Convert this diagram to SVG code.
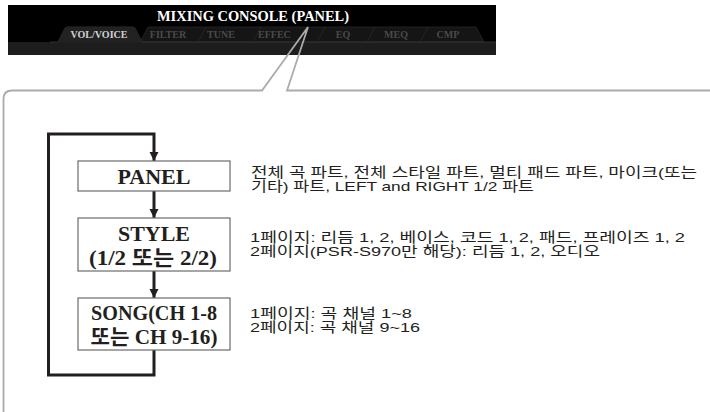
<svg xmlns="http://www.w3.org/2000/svg" width="710" height="412" viewBox="0 0 710 412">
<defs>
<style>
.tab{fill:#151515;stroke:#262626;stroke-width:0.8}
.tabt{font-family:"Liberation Serif",serif;font-weight:bold;font-size:10px;fill:#4a4a4a;text-anchor:middle}
.box{fill:#fff;stroke:#6b6b6b;stroke-width:1.2}
.bt{font-family:"Liberation Serif","Noto Sans CJK KR",serif;font-weight:bold;font-size:21px;fill:#231f20;text-anchor:middle}
.desc{font-family:"Liberation Sans","Noto Sans CJK KR",sans-serif;font-size:13.5px;fill:#231f20}
.conn{fill:none;stroke:#231f20;stroke-width:3}
.callout{fill:none;stroke:#ababab;stroke-width:1.8}
</style>
<marker id="ah" markerUnits="userSpaceOnUse" markerWidth="10" markerHeight="10" refX="9" refY="4.5" orient="auto">
<path d="M0,0 L9,4.5 L0,9 z" fill="#231f20"/>
</marker>
</defs>
<rect width="710" height="412" fill="#fff"/>
<g id="screen">
<rect x="8" y="5" width="488" height="50" fill="#000"/>
<rect x="8" y="42" width="488" height="13" fill="#1d1d1d"/>
<polygon class="tab" points="420,42 428,27 476,27 484,42"/>
<polygon class="tab" points="367,42 375,27 428,27 420,42"/>
<polygon class="tab" points="317,42 325,27 375,27 367,42"/>
<polygon class="tab" points="253,42 261,27 325,27 317,42"/>
<polygon class="tab" points="198,42 206,27 261,27 253,42"/>
<polygon class="tab" points="140,42 148,27 206,27 198,42"/>
<path d="M50,42 L58,42 L65,28 Q66,27 68,27 L132,27 Q134,27 135,28 L142,42 L496,42" fill="none" stroke="#3a3a3a" stroke-width="0.8"/>
<path d="M58,42.5 L65,28 Q66,27 68,27 L132,27 Q134,27 135,28 L142,42.5 z" fill="#222"/>
<text x="253" y="21" font-family="Liberation Serif,serif" font-weight="bold" font-size="15" fill="#fff" text-anchor="middle" textLength="192" lengthAdjust="spacingAndGlyphs">MIXING CONSOLE (PANEL)</text>
<text x="99" y="38" class="tabt" style="fill:#d2d2d2" textLength="57" lengthAdjust="spacingAndGlyphs">VOL/VOICE</text>
<text x="168" y="38" class="tabt">FILTER</text>
<text x="221" y="38" class="tabt">TUNE</text>
<text x="258" y="38" class="tabt" style="text-anchor:start">EFFEC</text>
<text x="343" y="38" class="tabt">EQ</text>
<text x="396" y="38" class="tabt">MEQ</text>
<text x="448" y="38" class="tabt">CMP</text>
</g>
<g id="callout">
<path class="callout" d="M3.5,412 V99 Q3.5,90.5 12,90.5 H262 L308,27 L287,90.5 H710"/>
</g>
<g id="connectors">
<path class="conn" d="M154,350 V375 H48.5 V134 H154 V161" marker-end="url(#ah)"/>
<path class="conn" d="M154,191 V218" marker-end="url(#ah)"/>
<path class="conn" d="M154,271 V298" marker-end="url(#ah)"/>
</g>
<g id="panel">
<rect class="box" x="78" y="161" width="152" height="30"/>
<text class="bt" x="154" y="184" textLength="73" lengthAdjust="spacingAndGlyphs">PANEL</text>
</g>
<g id="style">
<rect class="box" x="78" y="218" width="152" height="53"/>
<text class="bt" x="154" y="241" textLength="72" lengthAdjust="spacingAndGlyphs">STYLE</text>
<text class="bt" x="153" y="265" textLength="128" lengthAdjust="spacingAndGlyphs">(1/2 또는 2/2)</text>
</g>
<g id="song">
<rect class="box" x="78" y="298" width="152" height="52"/>
<text class="bt" x="154" y="320" textLength="126" lengthAdjust="spacingAndGlyphs">SONG(CH 1-8</text>
<text class="bt" x="154" y="344" textLength="127" lengthAdjust="spacingAndGlyphs">또는 CH 9-16)</text>
</g>
<g id="descriptions">
<text class="desc" x="251" y="177" textLength="446" lengthAdjust="spacingAndGlyphs">전체 곡 파트, 전체 스타일 파트, 멀티 패드 파트, 마이크(또는</text>
<text class="desc" x="251" y="191" textLength="283" lengthAdjust="spacingAndGlyphs">기타) 파트, LEFT and RIGHT 1/2 파트</text>
<text class="desc" x="250" y="242" textLength="435" lengthAdjust="spacingAndGlyphs">1페이지: 리듬 1, 2, 베이스, 코드 1, 2, 패드, 프레이즈 1, 2</text>
<text class="desc" x="250" y="256" textLength="350" lengthAdjust="spacingAndGlyphs">2페이지(PSR-S970만 해당): 리듬 1, 2, 오디오</text>
<text class="desc" x="250" y="318" textLength="162" lengthAdjust="spacingAndGlyphs">1페이지: 곡 채널 1~8</text>
<text class="desc" x="250" y="332" textLength="170" lengthAdjust="spacingAndGlyphs">2페이지: 곡 채널 9~16</text>
</g>
</svg>
